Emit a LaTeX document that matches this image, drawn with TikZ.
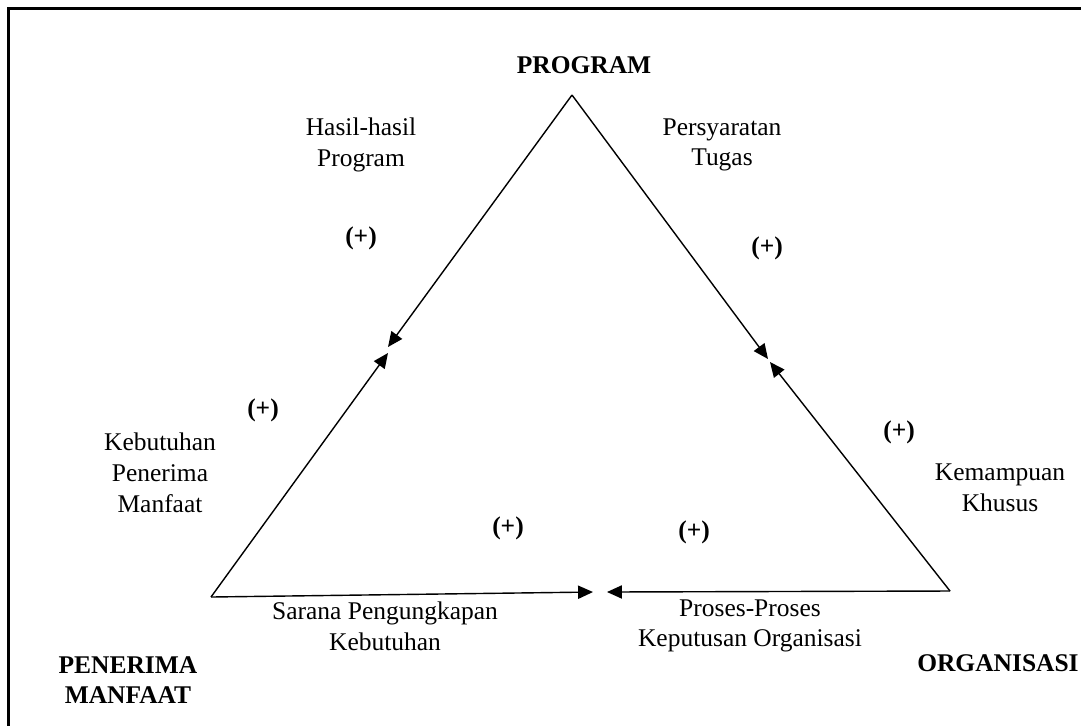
\documentclass[tikz,border=0pt]{standalone}
\usepackage{fontspec}
\setmainfont{Liberation Serif}
\usetikzlibrary{arrows.meta}

\begin{document}
\begin{tikzpicture}[
    x=0.02cm, y=-0.02cm,
    font=\fontsize{14.5}{17.5}\selectfont,
    % corner labels
    corner/.style={
        font=\fontsize{14.5}{17.5}\selectfont\bfseries,
        align=center,
        inner sep=0pt
    },
    % side labels
    sidelabel/.style={
        align=center,
        inner sep=0pt
    },
    % the (+) signs
    plus/.style={
        font=\fontsize{14.5}{17.5}\selectfont\bfseries,
        inner sep=0pt
    },
    arrow/.style={-{Triangle[length=8.5pt, width=7.5pt]}, line width=0.8pt}
]
    \useasboundingbox (0,0) rectangle (1081,725);

    % ==========================================
    % 1. FRAME
    % ==========================================
    \begin{scope}
        \clip (0,0) rectangle (1081,725);
        \draw[line width=1.2pt] (8.5,8.5) rectangle (1200,800);
    \end{scope}

    % ==========================================
    % 2. TRIANGLE CORNERS & MEETING POINTS
    % ==========================================
    \coordinate (program) at (572,95);
    \coordinate (penerima) at (211,597);
    \coordinate (organisasi) at (950,591);

    \coordinate (left_top) at (388,347);
    \coordinate (left_bot) at (388,353);
    \coordinate (right_top) at (768,359);
    \coordinate (right_bot) at (770,362);
    \coordinate (bot_left) at (593,592);
    \coordinate (bot_right) at (607,592);

    % Sides with arrows meeting half way
    \draw [arrow] (program) -- (left_top);
    \draw [arrow] (penerima) -- (left_bot);
    \draw [arrow] (program) -- (right_top);
    \draw [arrow] (organisasi) -- (right_bot);
    \draw [arrow] (penerima) -- (bot_left);
    \draw [arrow] (organisasi) -- (bot_right);

    % ==========================================
    % 3. CORNER LABELS
    % ==========================================
    \node (program_lbl) [corner] at (584,65) {PROGRAM};
    \node (penerima_lbl) [corner] at (128,680) {PENERIMA\\MANFAAT};
    \node (organisasi_lbl) [corner, anchor=east] at (1079,663) {ORGANISASI};

    % ==========================================
    % 4. SIDE LABELS
    % ==========================================
    \node (hasil) [sidelabel] at (361,145) {Hasil-hasil\\Program};
    \node (syarat) [sidelabel] at (722,145) {Persyaratan\\Tugas};
    \node (butuh) [sidelabel] at (160,473) {Kebutuhan\\Penerima\\Manfaat};
    \node (mampu) [sidelabel] at (1000,488) {Kemampuan\\Khusus};
    \node (sarana) [sidelabel] at (385,626) {Sarana Pengungkapan\\Kebutuhan};
    \node (proses) [sidelabel] at (750,626) {Proses-Proses\\Keputusan Organisasi};

    % ==========================================
    % 5. (+) SIGNS
    % ==========================================
    \node (plus_hasil) [plus] at (361,238) {(+)};
    \node (plus_syarat) [plus] at (767,248) {(+)};
    \node (plus_butuh) [plus] at (263,410) {(+)};
    \node (plus_mampu) [plus] at (899,432) {(+)};
    \node (plus_sarana) [plus] at (508,528) {(+)};
    \node (plus_proses) [plus] at (694,532) {(+)};

\end{tikzpicture}
\end{document}
